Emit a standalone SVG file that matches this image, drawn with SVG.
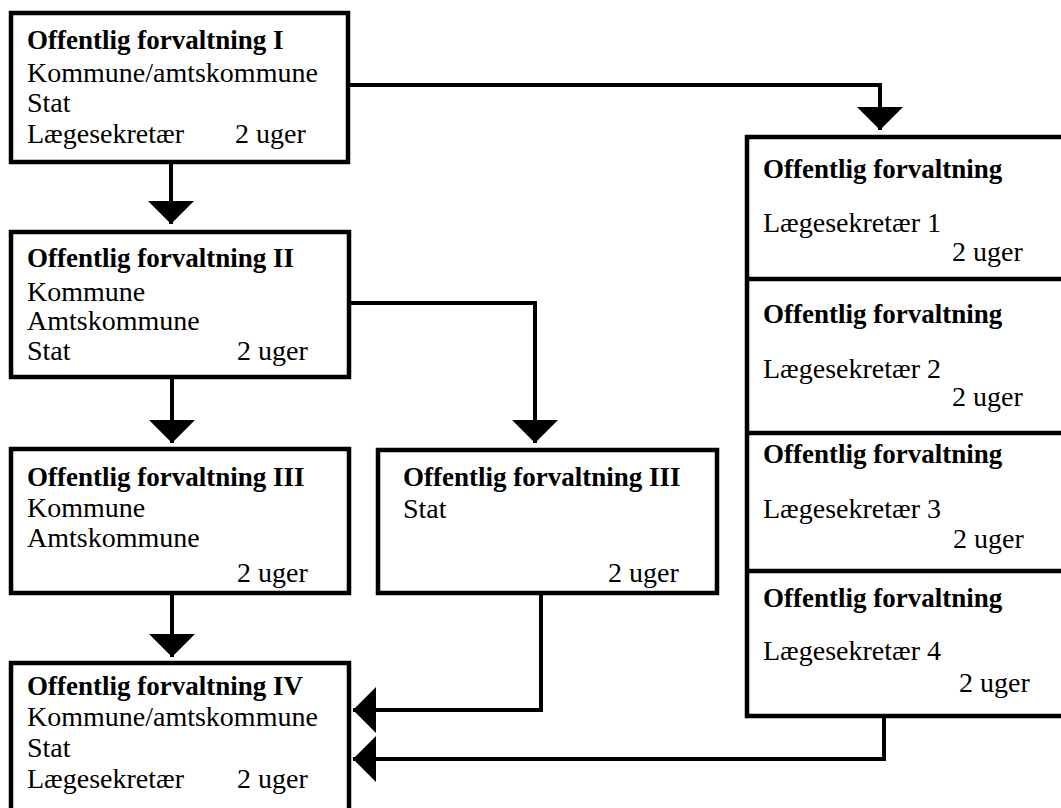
<svg xmlns="http://www.w3.org/2000/svg" width="1061" height="808" viewBox="0 0 1061 808">
<defs>
<style>
.box{fill:#fff;stroke:#000;stroke-width:4.5}
.div{stroke:#000;stroke-width:4.5}
.t{font-family:"Liberation Serif","Times New Roman",serif;font-size:27px;font-weight:bold;fill:#000}
.r{font-family:"Liberation Serif","Times New Roman",serif;font-size:28px;fill:#000}
.c{fill:none;stroke:#000;stroke-width:4}
</style>
<marker id="ah" viewBox="0 0 23 46" refX="23" refY="23" markerWidth="23" markerHeight="46" markerUnits="userSpaceOnUse" orient="auto">
<path d="M0,0 L23,23 L0,46 Z" fill="#000"/>
</marker>
</defs>
<rect width="1061" height="808" fill="#fff"/>

<g id="connectors">
<path class="c" d="M171,162 V224" marker-end="url(#ah)"/>
<path class="c" d="M348,85 H880 V130" marker-end="url(#ah)"/>
<path class="c" d="M172,377 V443" marker-end="url(#ah)"/>
<path class="c" d="M349,303 H535 V443" marker-end="url(#ah)"/>
<path class="c" d="M172,593 V657" marker-end="url(#ah)"/>
<path class="c" d="M541,593 V710 H353" marker-end="url(#ah)"/>
<path class="c" d="M884,716 V759 H353" marker-end="url(#ah)"/>
</g>

<g id="n1">
<rect class="box" x="11" y="13" width="337" height="149"/>
<text class="t" x="27" y="49">Offentlig forvaltning I</text>
<text class="r" x="27" y="82">Kommune/amtskommune</text>
<text class="r" x="27" y="112">Stat</text>
<text class="r" x="27" y="143">Lægesekretær</text>
<text class="r" x="235" y="143">2 uger</text>
</g>

<g id="n2">
<rect class="box" x="11" y="232" width="338" height="145"/>
<text class="t" x="27" y="267">Offentlig forvaltning II</text>
<text class="r" x="27" y="301">Kommune</text>
<text class="r" x="27" y="330">Amtskommune</text>
<text class="r" x="27" y="360">Stat</text>
<text class="r" x="237" y="360">2 uger</text>
</g>

<g id="n3a">
<rect class="box" x="11" y="449" width="338" height="144"/>
<text class="t" x="27" y="486">Offentlig forvaltning III</text>
<text class="r" x="27" y="517">Kommune</text>
<text class="r" x="27" y="547">Amtskommune</text>
<text class="r" x="237" y="582">2 uger</text>
</g>

<g id="n3b">
<rect class="box" x="378" y="450" width="339" height="143"/>
<text class="t" x="403" y="486">Offentlig forvaltning III</text>
<text class="r" x="403" y="518">Stat</text>
<text class="r" x="608" y="582">2 uger</text>
</g>

<g id="n4">
<rect class="box" x="11" y="663" width="338" height="170"/>
<text class="t" x="27" y="695">Offentlig forvaltning IV</text>
<text class="r" x="27" y="726">Kommune/amtskommune</text>
<text class="r" x="27" y="757">Stat</text>
<text class="r" x="27" y="788">Lægesekretær</text>
<text class="r" x="237" y="788">2 uger</text>
</g>

<g id="nr">
<rect class="box" x="747" y="137" width="330" height="579"/>
<line class="div" x1="747" y1="279" x2="1075" y2="279"/>
<line class="div" x1="747" y1="433" x2="1075" y2="433"/>
<line class="div" x1="747" y1="571" x2="1075" y2="571"/>
<text class="t" x="763" y="178">Offentlig forvaltning</text>
<text class="r" x="763" y="232">Lægesekretær 1</text>
<text class="r" x="952" y="261">2 uger</text>
<text class="t" x="763" y="323">Offentlig forvaltning</text>
<text class="r" x="763" y="378">Lægesekretær 2</text>
<text class="r" x="952" y="406">2 uger</text>
<text class="t" x="763" y="463">Offentlig forvaltning</text>
<text class="r" x="763" y="518">Lægesekretær 3</text>
<text class="r" x="953" y="548">2 uger</text>
<text class="t" x="763" y="607">Offentlig forvaltning</text>
<text class="r" x="763" y="660">Lægesekretær 4</text>
<text class="r" x="959" y="692">2 uger</text>
</g>
</svg>
